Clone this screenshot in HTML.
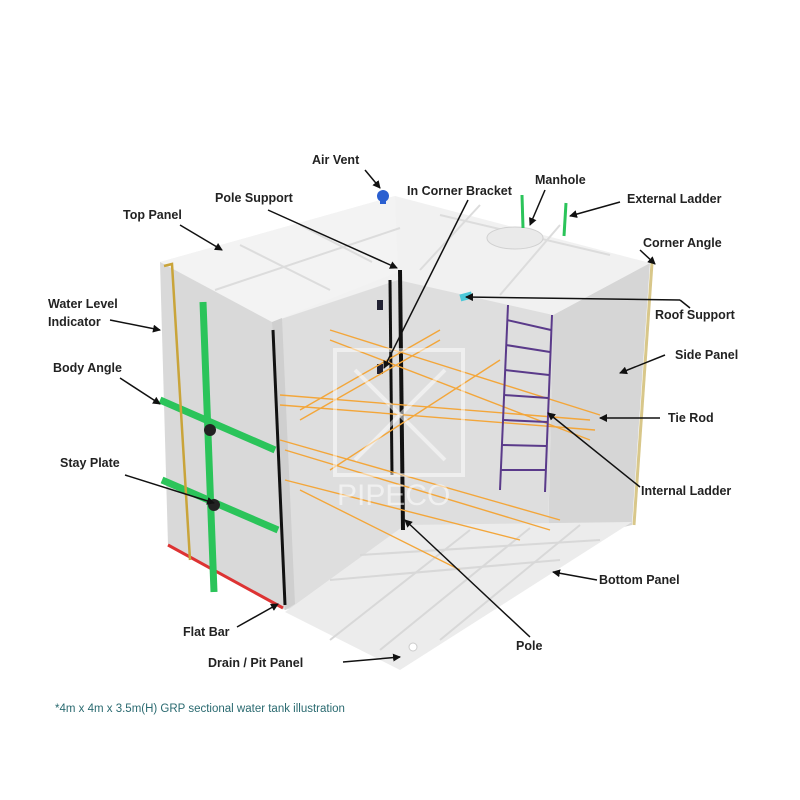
<!DOCTYPE html>
<html><head><meta charset="utf-8"><style>
body{margin:0;background:#fff}
svg{display:block}
text{font-family:"Liberation Sans",sans-serif;font-weight:bold;font-size:12.5px;fill:#222}
</style></head><body>
<svg width="800" height="800" viewBox="0 0 800 800">
<defs><marker id="a" markerWidth="8" markerHeight="8" refX="7" refY="4" orient="auto" markerUnits="userSpaceOnUse"><path d="M0,0 L8,4 L0,8 z" fill="#111"/></marker></defs>
<!-- interior back wall -->
<polygon points="272,322 398,272 553,315 548,540 285,610" fill="#dedede"/>
<!-- side panel -->
<polygon points="553,315 650,263 632,525 548,545" fill="#d6d6d6"/>
<!-- roof underside strip -->
<polygon points="398,272 650,263 553,315" fill="#e6e6e6"/>
<!-- floor -->
<polygon points="285,612 405,525 632,522 400,670" fill="#ececec"/>
<g stroke="#d8d8d8" stroke-width="2" fill="none">
<line x1="330" y1="580" x2="560" y2="560"/><line x1="360" y1="555" x2="600" y2="540"/><line x1="330" y1="640" x2="470" y2="530"/><line x1="380" y1="650" x2="530" y2="528"/><line x1="440" y1="640" x2="580" y2="525"/>
</g>
<!-- tank top -->
<polygon points="160,262 395,196 650,263 553,315 398,280 272,322" fill="#f1f1f1"/>
<polygon points="160,262 395,196 398,272 272,322" fill="#f3f3f3"/>
<g stroke="#dcdcdc" stroke-width="2" fill="none">
<line x1="215" y1="290" x2="400" y2="228"/><line x1="240" y1="245" x2="330" y2="290"/><line x1="300" y1="225" x2="372" y2="262"/><line x1="440" y1="215" x2="610" y2="255"/><line x1="480" y1="205" x2="420" y2="270"/><line x1="560" y1="225" x2="500" y2="295"/>
</g>
<ellipse cx="515" cy="238" rx="28" ry="11" fill="#eaeaea" stroke="#d0d0d0"/>
<!-- left block front face -->
<polygon points="160,262 272,322 285,610 168,545" fill="#d9d9d9"/>
<polygon points="272,322 282,318 295,604 285,610" fill="#cfcfcf"/>
<line x1="168" y1="545" x2="283" y2="608" stroke="#d33" stroke-width="3"/>
<!-- green body angles -->
<g stroke="#2bc45a" stroke-width="7">
<line x1="203" y1="302" x2="214" y2="592"/>
<line x1="160" y1="400" x2="275" y2="450"/>
<line x1="162" y1="480" x2="278" y2="530"/>
</g>
<circle cx="210" cy="430" r="6" fill="#222"/><circle cx="214" cy="505" r="6" fill="#222"/>
<polyline points="164,266 172,264 190,560" stroke="#c9a43a" stroke-width="2.5" fill="none"/>
<line x1="652" y1="263" x2="634" y2="525" stroke="#d8c78a" stroke-width="3"/>
<!-- poles -->
<line x1="273" y1="330" x2="285" y2="605" stroke="#111" stroke-width="3"/>
<line x1="390" y1="280" x2="392" y2="475" stroke="#111" stroke-width="3"/>
<line x1="400" y1="270" x2="403" y2="530" stroke="#111" stroke-width="4"/>
<rect x="377" y="300" width="6" height="10" fill="#223"/><rect x="377" y="364" width="6" height="10" fill="#223"/>
<rect x="460" y="293" width="12" height="7" fill="#4cc8d8" transform="rotate(-15 466 296)"/>
<!-- tie rods -->
<g stroke="#f3a63a" stroke-width="1.4">
<line x1="280" y1="395" x2="590" y2="420"/><line x1="280" y1="405" x2="595" y2="430"/><line x1="280" y1="440" x2="560" y2="520"/><line x1="285" y1="450" x2="550" y2="530"/>
<line x1="300" y1="410" x2="440" y2="330"/><line x1="300" y1="420" x2="440" y2="340"/><line x1="330" y1="470" x2="500" y2="360"/><line x1="285" y1="480" x2="520" y2="540"/>
<line x1="330" y1="330" x2="600" y2="415"/><line x1="330" y1="340" x2="590" y2="440"/><line x1="300" y1="490" x2="460" y2="570"/>
</g>
<!-- ladder -->
<g stroke="#5a3a8a" stroke-width="2"><line x1="508" y1="305" x2="500" y2="490"/><line x1="552" y1="315" x2="545" y2="492"/>
<line x1="507" y1="320" x2="551" y2="330"/><line x1="506" y1="345" x2="550" y2="352"/><line x1="505" y1="370" x2="549" y2="375"/><line x1="504" y1="395" x2="548" y2="398"/><line x1="503" y1="420" x2="547" y2="422"/><line x1="502" y1="445" x2="546" y2="446"/><line x1="501" y1="470" x2="545" y2="470"/></g>
<line x1="522" y1="195" x2="523" y2="228" stroke="#2bc45a" stroke-width="3"/><line x1="566" y1="203" x2="564" y2="236" stroke="#2bc45a" stroke-width="3"/>
<circle cx="383" cy="196" r="6" fill="#2a5fd0"/><rect x="380" y="196" width="6" height="8" fill="#2a5fd0"/>
<circle cx="413" cy="647" r="4" fill="#fff" stroke="#ccc"/>
<!-- watermark -->
<g stroke="#fff" stroke-opacity="0.5" fill="none" stroke-width="4"><rect x="335" y="350" width="128" height="125"/><line x1="355" y1="370" x2="445" y2="460"/><line x1="445" y1="370" x2="355" y2="460"/></g>
<text x="337" y="505" style="font-size:30px;fill:#fff;fill-opacity:0.55;font-weight:normal">PIPECO</text>
<!-- arrows -->
<g stroke="#111" stroke-width="1.5" marker-end="url(#a)">
<line x1="365" y1="170" x2="380" y2="188"/><line x1="268" y1="210" x2="397" y2="268"/><line x1="468" y1="200" x2="384" y2="368"/>
<line x1="545" y1="190" x2="530" y2="225"/><line x1="620" y1="202" x2="570" y2="216"/><line x1="180" y1="225" x2="222" y2="250"/>
<line x1="640" y1="250" x2="655" y2="264"/><line x1="110" y1="320" x2="160" y2="330"/><line x1="680" y1="300" x2="466" y2="297"/>
<line x1="120" y1="378" x2="160" y2="404"/><line x1="665" y1="355" x2="620" y2="373"/><line x1="660" y1="418" x2="600" y2="418"/>
<line x1="640" y1="487" x2="548" y2="413"/><line x1="125" y1="475" x2="214" y2="503"/><line x1="597" y1="580" x2="553" y2="572"/>
<line x1="237" y1="627" x2="278" y2="604"/><line x1="530" y1="637" x2="405" y2="520"/><line x1="343" y1="662" x2="400" y2="657"/>
</g>
<line x1="680" y1="300" x2="690" y2="308" stroke="#111" stroke-width="1.5"/>
<!-- labels -->
<text x="312" y="164">Air Vent</text>
<text x="215" y="202">Pole Support</text>
<text x="407" y="195">In Corner Bracket</text>
<text x="535" y="184">Manhole</text>
<text x="627" y="203">External Ladder</text>
<text x="123" y="219">Top Panel</text>
<text x="643" y="247">Corner Angle</text>
<text x="48" y="308">Water Level</text>
<text x="48" y="326">Indicator</text>
<text x="655" y="319">Roof Support</text>
<text x="53" y="372">Body Angle</text>
<text x="675" y="359">Side Panel</text>
<text x="668" y="422">Tie Rod</text>
<text x="641" y="495">Internal Ladder</text>
<text x="60" y="467">Stay Plate</text>
<text x="599" y="584">Bottom Panel</text>
<text x="183" y="636">Flat Bar</text>
<text x="516" y="650">Pole</text>
<text x="208" y="667">Drain / Pit Panel</text>
<text x="55" y="712" style="font-weight:normal;font-size:11.5px;fill:#2a6a70">*4m x 4m x 3.5m(H) GRP sectional water tank illustration</text>
</svg>
</body></html>
